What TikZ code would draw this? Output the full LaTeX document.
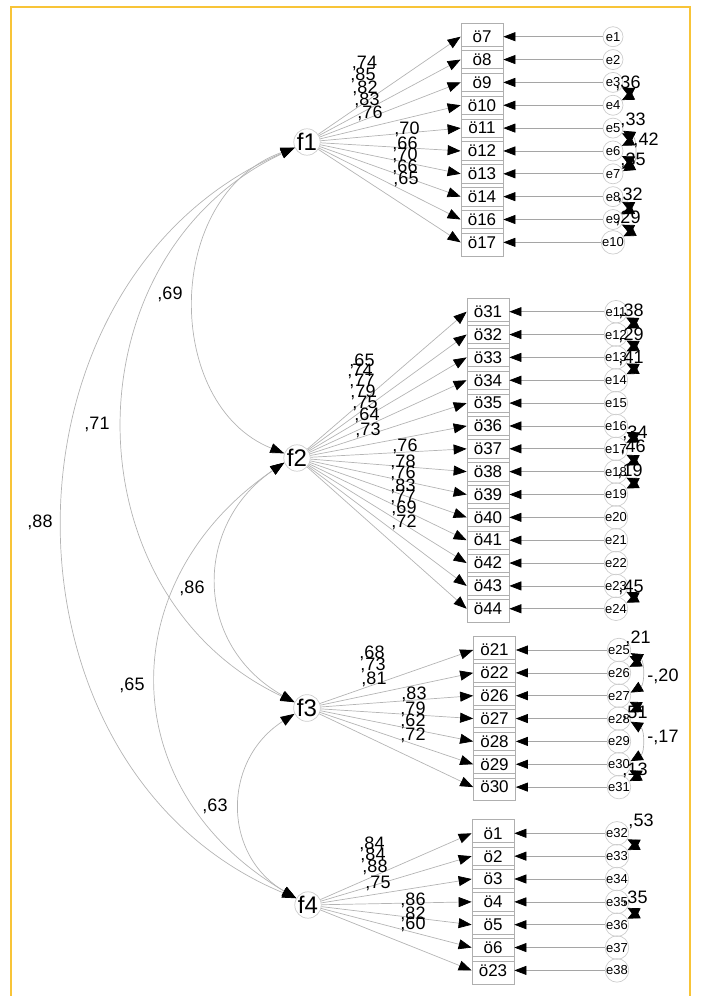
\documentclass[tikz,border=0pt]{standalone}
\usepackage{fontspec}
\setmainfont{Liberation Sans}
\usetikzlibrary{arrows.meta}
\definecolor{framecol}{RGB}{248,196,56}
\definecolor{linecol}{RGB}{180,180,180}
\definecolor{elinecol}{RGB}{165,165,165}
\definecolor{circcol}{RGB}{205,205,205}
\definecolor{boxcol}{RGB}{175,175,175}
\begin{document}
\begin{tikzpicture}[x=1pt,y=-1pt,
  lat/.style={circle,draw=circcol,line width=0.7pt,minimum size=26pt,inner sep=0pt,font=\fontsize{24}{24}\selectfont},
  obs/.style={rectangle,draw=boxcol,line width=0.7pt,minimum width=42pt,minimum height=27.3pt,inner sep=0pt,font=\fontsize{17}{17}\selectfont},
  err/.style={circle,draw=circcol,line width=0.7pt,minimum size=20pt,inner sep=0pt,font=\fontsize{13}{13}\selectfont},
  lbl/.style={inner sep=0pt,font=\fontsize{18}{18}\selectfont},
  load/.style={draw=linecol,line width=0.7pt,-{Triangle[length=13pt,width=10pt,color=black]}},
  eline/.style={draw=elinecol,line width=0.7pt,-{Triangle[length=12pt,width=9pt,color=black]}},
  fcov/.style={draw=linecol,line width=0.7pt,{Triangle[length=14pt,width=10pt,color=black]}-{Triangle[length=14pt,width=10pt,color=black]}},
  ecov/.style={draw=linecol,line width=0.7pt,{Triangle[length=12pt,width=11pt,color=black]}-{Triangle[length=12pt,width=11pt,color=black]}},
]
\useasboundingbox (0,0) rectangle (701,996);
\draw[framecol,line width=1.4pt] (11,996) -- (11,7) -- (690,7) -- (690,996);

% latent factors
\node[lat] (f1) at (307,142) {f1};
\node[lat] (f2) at (297,458) {f2};
\node[lat] (f3) at (307,708) {f3};
\node[lat] (f4) at (308,905) {f4};

% block 1
\foreach \q [count=\i] in {7,8,9,10,11,12,13,14,16,17}{
  \pgfmathsetmacro\yy{36.7+22.85*(\i-1)}
  \node[obs] (b\q) at (482,\yy) {ö\q};
  \node[err] (e\i) at (613,\yy) {e\i};
  \draw[load] (f1) -- (b\q.west);
  \draw[eline] (e\i) -- (b\q.east);
}
% block 2
\foreach \q [count=\i] in {31,32,33,34,35,36,37,38,39,40,41,42,43,44}{
  \pgfmathsetmacro\yy{311.7+22.85*(\i-1)}
  \pgfmathtruncatemacro\n{\i+10}
  \node[obs] (b\q) at (488,\yy) {ö\q};
  \node[err] (e\n) at (616,\yy) {e\n};
  \draw[load] (f2) -- (b\q.west);
  \draw[eline] (e\n) -- (b\q.east);
}
% block 3
\foreach \q [count=\i] in {21,22,26,27,28,29,30}{
  \pgfmathsetmacro\yy{650+22.85*(\i-1)}
  \pgfmathtruncatemacro\n{\i+24}
  \node[obs] (b\q) at (494.5,\yy) {ö\q};
  \node[err] (e\n) at (619,\yy) {e\n};
  \draw[load] (f3) -- (b\q.west);
  \draw[eline] (e\n) -- (b\q.east);
}
% block 4
\foreach \q [count=\i] in {1,2,3,4,5,6,23}{
  \pgfmathsetmacro\yy{833.3+22.85*(\i-1)}
  \pgfmathtruncatemacro\n{\i+31}
  \node[obs] (b\q) at (493,\yy) {ö\q};
  \node[err] (e\n) at (617,\yy) {e\n};
  \draw[load] (f4) -- (b\q.west);
  \draw[eline] (e\n) -- (b\q.east);
}

% loading labels
\foreach \t/\x/\y [count=\k] in {74/364.5/63, 85/363/75, 82/365/88, 83/367/100, 76/370/113,
  70/407/129, 66/405/144, 70/405/155, 66/405/167, 65/406/179,
  65/362/361, 74/360/371, 77/362/381, 79/363/392, 75/365/403, 64/367/415, 73/368/430,
  76/405/446, 78/403/462, 76/403/473, 83/403/486, 77/403/497, 69/404/508, 72/404/522,
  68/372/653, 73/373/665, 81/374/679, 83/414/694, 79/413/709, 62/413/721, 72/413/735,
  84/372/844, 84/373/855, 88/375/867, 75/378/883, 86/413/900, 82/413/914, 60/413/924}
  \node[lbl] (L\k) at (\x,\y) {,\t};

% factor covariances
\draw[fcov] (f1.205) .. controls (163,195) and (163,405) .. (f2.160);
\draw[fcov] (f1.205) .. controls (66,255) and (66,595) .. (f3.155);
\draw[fcov] (f1.205) .. controls (-14,280) and (-14,770) .. (f4.150);
\draw[fcov] (f2.200) .. controls (193,525) and (193,645) .. (f3.155);
\draw[fcov] (f2.200) .. controls (112,580) and (112,790) .. (f4.150);
\draw[fcov] (f3.205) .. controls (222,760) and (222,855) .. (f4.150);
\node[lbl] (c12) at (170,294) {,69};
\node[lbl] (c13) at (97,424) {,71};
\node[lbl] (c14) at (40,522) {,88};
\node[lbl] (c23) at (192,588) {,86};
\node[lbl] (c24) at (132,685) {,65};
\node[lbl] (c34) at (215,806) {,63};

% error covariances
\foreach \a/\b in {3/4,5/6,6/7,8/9,9/10,11/12,12/13,13/14,16/17,17/18,18/19,23/24,25/26,27/28,30/31,32/33,35/36}
  \draw[ecov] (e\a.-30) .. controls +(6,3) and +(6,-3) .. (e\b.30);
\foreach \a/\b in {5/7,25/27,28/30}
  \draw[ecov] (e\a.-15) .. controls +(14,8) and +(14,-8) .. (e\b.15);
\foreach \t/\x/\y [count=\k] in {36/628/83, 33/633/120, 42/646/140, 35/633/160, 32/630/195, 29/628/218,
  38/631/311, 29/631/335, 41/631/358, 34/635/433, 46/633/447, 19/630/471, 45/631/587,
  21/638/638, 51/635/713, 13/635/770, 53/641/821, 35/635/898}
  \node[lbl] (E\k) at (\x,\y) {,\t};
\node[lbl] (E19) at (663,676) {-,20};
\node[lbl] (E20) at (663,737) {-,17};
\end{tikzpicture}
\end{document}
